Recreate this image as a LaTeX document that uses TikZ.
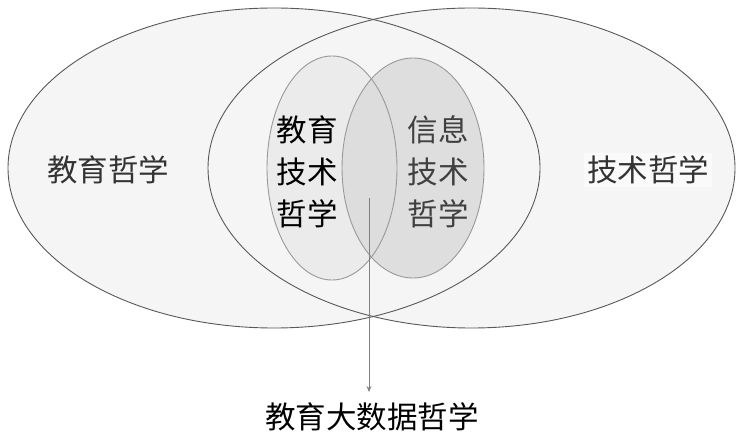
\documentclass[tikz,border=0pt]{standalone}
\usepackage{fontspec}
\newfontfamily\cjk{Noto Sans CJK SC}
\usetikzlibrary{arrows.meta}
\begin{document}
\begin{tikzpicture}[x=1pt,y=-1pt,
  bigline/.style={draw=black!65, line width=0.9pt},
  smallline/.style={draw=black!40, line width=0.9pt},
  lbl/.style={font=\cjk\fontsize{30.5}{42}\selectfont, align=center, inner sep=0pt},
]
\useasboundingbox (0,0) rectangle (743,443);
\fill[white] (0,0) rectangle (743,443);
% fills
\fill[black!4] (274,168) ellipse [x radius=266, y radius=160];
\fill[black!4] (471.5,168) ellipse [x radius=263.5, y radius=160];
\fill[black!8] (332,168) ellipse [x radius=65, y radius=112];
\fill[black!14, fill opacity=0.85] (413,168) ellipse [x radius=71, y radius=110];
% outlines
\draw[bigline] (274,168) ellipse [x radius=266, y radius=160];
\draw[bigline] (471.5,168) ellipse [x radius=263.5, y radius=160];
\draw[smallline] (332,168) ellipse [x radius=65, y radius=112];
\draw[smallline] (413,168) ellipse [x radius=71, y radius=110];
\node[lbl, text=black!80] (edu) at (108,170) {教育哲学};
\node[lbl, text=black!80, fill=black!2, inner sep=3pt] (tech) at (648,170) {技术哲学};
\node[lbl, text=black] (edutech) at (307,172) {教育\\技术\\哲学};
\node[lbl, text=black!75] (infotech) at (438,172) {信息\\技术\\哲学};
\coordinate (src) at (369,198);
\node[lbl, text=black] (bigdata) at (372,417) {教育大数据哲学};
\draw[black!50, line width=0.9pt, -{Stealth[length=6pt,width=5pt]}] (src) -- (369,392);
\end{tikzpicture}
\end{document}
